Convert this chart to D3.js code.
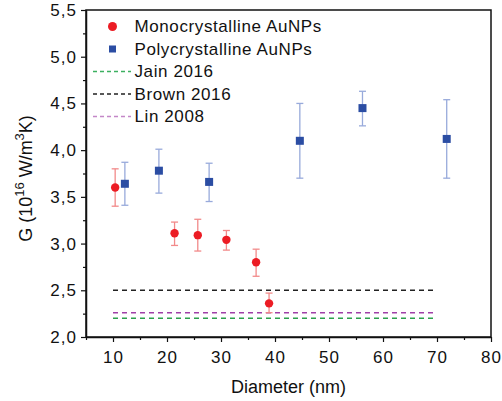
<!DOCTYPE html>
<html>
<head>
<meta charset="utf-8">
<script src="https://cdn.jsdelivr.net/npm/d3@7"></script>
<style>
  body { margin: 0; background: #fff; }
  text { font-family: "Liberation Sans", Arial, sans-serif; fill: #111; }
</style>
</head>
<body>
<div id="chart"></div>
<script>
var width = 502,
    height = 401;

// monocrystalline AuNPs
var monoD   = [10.4, 21.4, 25.7, 31.0, 36.5, 38.9];
var monoG   = [3.60, 3.11, 3.09, 3.04, 2.80, 2.36];
var monoLo  = [3.40, 2.98, 2.92, 2.93, 2.65, 2.26];
var monoHi  = [3.80, 3.23, 3.26, 3.14, 2.94, 2.47];

// polycrystalline AuNPs
var polyD   = [12.2, 18.5, 27.8, 44.6, 56.2, 71.8];
var polyG   = [3.64, 3.78, 3.66, 4.10, 4.45, 4.12];
var polyLo  = [3.41, 3.54, 3.45, 3.70, 4.26, 3.70];
var polyHi  = [3.87, 4.01, 3.86, 4.50, 4.63, 4.54];

// reference lines
var refNames = ["Jain 2016", "Brown 2016", "Lin 2008"];
var refG     = [2.20, 2.50, 2.26];
var refColor = ["#2ca24c", "#222222", "#a040a8"];
var refLegendColor = ["#3cb060", "#222222", "#c487c8"];
var refRange = [10, 70];

var xTicks = [10, 20, 30, 40, 50, 60, 70, 80];
var yTicks = [2.0, 2.5, 3.0, 3.5, 4.0, 4.5, 5.0, 5.5];

var margin = {top: 10, right: 11, bottom: 64, left: 86};

var svg = d3.select("#chart").append("svg")
    .attr("width", width)
    .attr("height", height);

var x = d3.scaleLinear()
    .domain([5, 80])
    .range([margin.left, width - margin.right]);

var y = d3.scaleLinear()
    .domain([2, 5.5])
    .range([height - margin.bottom, margin.top]);

var fmt = function(d){ return d3.format(".1f")(d).replace(".", ","); };

// frame
svg.append("rect")
    .attr("x", x(5))
    .attr("y", y(5.5))
    .attr("width", x(80) - x(5))
    .attr("height", y(2) - y(5.5))
    .attr("fill", "none")
    .attr("stroke", "#111")
    .attr("stroke-width", 1.5);

// minor ticks
var xMinor = d3.range(5, 81, 5).filter(function(d){ return xTicks.indexOf(d) < 0; });
var yMinor = d3.range(2.25, 5.5, 0.5);

var xAxis = svg.append("g")
    .attr("transform", "translate(0," + y(2) + ")")
    .call(d3.axisBottom(x).tickValues(xTicks).tickSize(5).tickSizeOuter(0).tickPadding(9).tickFormat(d3.format("d")));
svg.append("g")
    .attr("transform", "translate(0," + y(2) + ")")
    .call(d3.axisBottom(x).tickValues(xMinor).tickSize(3).tickSizeOuter(0).tickFormat(""))
    .select(".domain").remove();

var yAxis = svg.append("g")
    .attr("transform", "translate(" + x(5) + ",0)")
    .call(d3.axisLeft(y).tickValues(yTicks).tickSize(5).tickSizeOuter(0).tickPadding(4).tickFormat(fmt));
svg.append("g")
    .attr("transform", "translate(" + x(5) + ",0)")
    .call(d3.axisLeft(y).tickValues(yMinor).tickSize(3).tickSizeOuter(0).tickFormat(""))
    .select(".domain").remove();

svg.selectAll(".domain").attr("stroke", "#111").attr("stroke-width", 1.5);
svg.selectAll(".tick line").attr("stroke", "#111").attr("stroke-width", 1.2);
svg.selectAll(".tick text").attr("font-size", 17).attr("fill", "#111")
    .attr("letter-spacing", 1)
    .style("font-family", "'Liberation Sans', Arial, sans-serif");

// axis titles
svg.append("text")
    .attr("x", (x(5) + x(80)) / 2)
    .attr("y", 393)
    .attr("text-anchor", "middle")
    .attr("font-size", 18)
    .text("Diameter (nm)");

var yl = svg.append("text")
    .attr("transform", "translate(32," + ((y(2) + y(5.5)) / 2 + 5) + ") rotate(-90)")
    .attr("text-anchor", "middle")
    .attr("font-size", 18);
yl.append("tspan").text("G (10");
yl.append("tspan").attr("font-size", 13).attr("dy", -8).text("16");
yl.append("tspan").attr("dy", 8).text(" W/m");
yl.append("tspan").attr("font-size", 13).attr("dy", -8).text("3");
yl.append("tspan").attr("dy", 8).text("K)");

// reference dashed lines
refG.forEach(function(g, i){
    svg.append("line")
        .attr("x1", x(refRange[0]))
        .attr("x2", x(refRange[1]))
        .attr("y1", y(g))
        .attr("y2", y(g))
        .attr("stroke", refColor[i])
        .attr("stroke-width", 1.5)
        .attr("stroke-dasharray", "5,4");
});

// error bars
function errorBars(xs, lo, hi, color) {
    var g = svg.append("g").attr("stroke", color).attr("stroke-width", 1.3);
    xs.forEach(function(d, i){
        g.append("line").attr("x1", x(d)).attr("x2", x(d)).attr("y1", y(lo[i])).attr("y2", y(hi[i]));
        g.append("line").attr("x1", x(d) - 3.5).attr("x2", x(d) + 3.5).attr("y1", y(lo[i])).attr("y2", y(lo[i]));
        g.append("line").attr("x1", x(d) - 3.5).attr("x2", x(d) + 3.5).attr("y1", y(hi[i])).attr("y2", y(hi[i]));
    });
}
errorBars(monoD, monoLo, monoHi, "#f28a8a");
errorBars(polyD, polyLo, polyHi, "#98aadb");

svg.selectAll(".mono")
    .data(monoD)
    .enter().append("circle")
    .attr("class", "mono")
    .attr("cx", function(d){ return x(d); })
    .attr("cy", function(d, i){ return y(monoG[i]); })
    .attr("r", 4.2)
    .attr("fill", "#ec1c24");

svg.selectAll(".poly")
    .data(polyD)
    .enter().append("rect")
    .attr("class", "poly")
    .attr("x", function(d){ return x(d) - 4; })
    .attr("y", function(d, i){ return y(polyG[i]) - 4; })
    .attr("width", 8)
    .attr("height", 8)
    .attr("fill", "#2b4da3");

// legend
var lx = 112.5, rowH = 22.5, ly = 26.5;
svg.append("circle").attr("cx", lx).attr("cy", ly).attr("r", 4.5).attr("fill", "#ec1c24");
svg.append("rect").attr("x", lx - 3.5).attr("y", ly + rowH - 3.5).attr("width", 7).attr("height", 7).attr("fill", "#2b4da3");
var legendText = ["Monocrystalline AuNPs", "Polycrystalline AuNPs"].concat(refNames);
legendText.forEach(function(n, i){
    svg.append("text").attr("x", 134.5).attr("y", ly + rowH * i + 5.5)
        .attr("font-size", 17).attr("letter-spacing", 0.6).text(n);
});
refNames.forEach(function(n, i){
    var yy = ly + rowH * (i + 2);
    svg.append("line")
        .attr("x1", 93).attr("x2", 131)
        .attr("y1", yy).attr("y2", yy)
        .attr("stroke", refLegendColor[i])
        .attr("stroke-width", 1.5)
        .attr("stroke-dasharray", "4,3");
});
</script>
</body>
</html>
